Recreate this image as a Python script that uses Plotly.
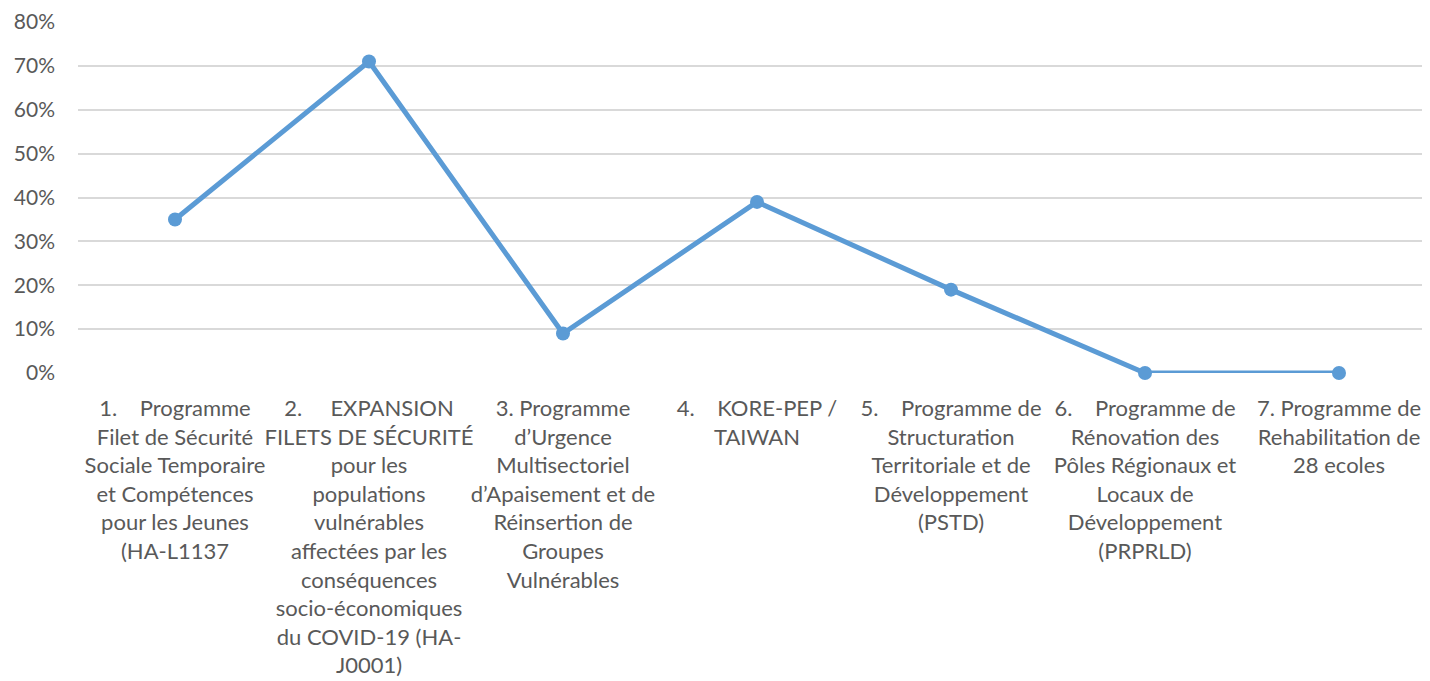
import plotly.graph_objects as go

categories = [
    "1.&nbsp;&nbsp;&nbsp;&nbsp;Programme<br>Filet de Sécurité<br>Sociale Temporaire<br>et Compétences<br>pour les Jeunes<br>(HA-L1137",
    "2.&nbsp;&nbsp;&nbsp;&nbsp;&nbsp;EXPANSION<br>FILETS DE SÉCURITÉ<br>pour les<br>populations<br>vulnérables<br>affectées par les<br>conséquences<br>socio-économiques<br>du COVID-19 (HA-<br>J0001)",
    "3. Programme<br>d’Urgence<br>Multisectoriel<br>d’Apaisement et de<br>Réinsertion de<br>Groupes<br>Vulnérables",
    "4.&nbsp;&nbsp;&nbsp;&nbsp;KORE-PEP /<br>TAIWAN",
    "5.&nbsp;&nbsp;&nbsp;&nbsp;Programme de<br>Structuration<br>Territoriale et de<br>Développement<br>(PSTD)",
    "6.&nbsp;&nbsp;&nbsp;&nbsp;Programme de<br>Rénovation des<br>Pôles Régionaux et<br>Locaux de<br>Développement<br>(PRPRLD)",
    "7. Programme de<br>Rehabilitation de<br>28 ecoles",
]
values = [0.35, 0.71, 0.09, 0.39, 0.19, 0.0, 0.0]
y_ticks = [0, 0.1, 0.2, 0.3, 0.4, 0.5, 0.6, 0.7, 0.8]

fig = go.Figure()
fig.add_trace(go.Scatter(
    x=categories, y=values, mode="lines+markers",
    line=dict(color="#5b9bd5", width=5),
    marker=dict(color="#5b9bd5", size=14),
    cliponaxis=False, showlegend=False,
))

fig.update_layout(
    width=1428, height=673,
    margin=dict(l=70, r=0, t=14, b=308),
    paper_bgcolor="white", plot_bgcolor="white",
    font=dict(family="Lato, 'Open Sans', sans-serif", size=21, color="#595959"),
    xaxis=dict(type="category", showgrid=False, showline=False, zeroline=False,
               tickangle=0, ticks="", range=[-0.5, 6.5], automargin=False,
               ticklabelstandoff=20,
               tickfont=dict(size=22, color="#595959")),
    yaxis=dict(range=[0, 0.8], tickvals=y_ticks, tickformat=".0%",
               showgrid=True, gridcolor="#d9d9d9", gridwidth=1.5, automargin=False,
               zeroline=False, showline=False, ticks="", ticklabelstandoff=22,
               tickfont=dict(size=21, color="#595959")),
)

fig.write_html("out.html")
